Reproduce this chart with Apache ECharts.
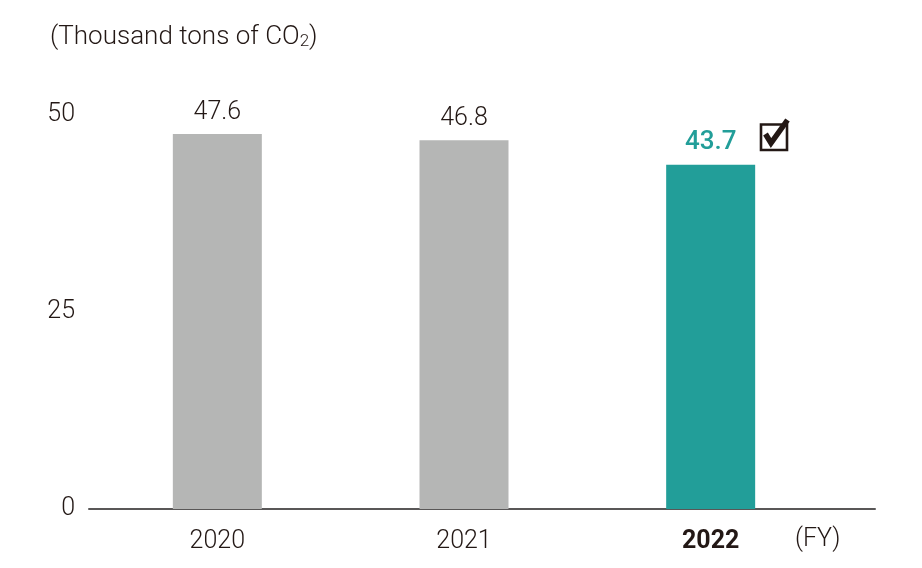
<!DOCTYPE html>
<html>
<head>
<meta charset="utf-8">
<script src="https://cdn.jsdelivr.net/npm/echarts@6/dist/echarts.min.js"></script>
<style>
  html, body { margin: 0; padding: 0; background: #fff; }
  #main { width: 922px; height: 568px; }
</style>
</head>
<body>
<div id="main"></div>
<script>
// 数据
const years = ['2020', '2021', '2022']
const emissions = [47.6, 46.8, 43.7]
const yTicks = [0, 25, 50]

const txt = '#231815'
const grey = '#b5b6b5'
const teal = '#229e99'
const font = 'Roboto, "Liberation Sans", sans-serif'
const fw = 300

let ele = echarts.init(document.getElementById('main'))

const option = {
    animation: false,
    textStyle: { fontFamily: font, fontWeight: fw },
    // 单位标题
    title: {
        text: '{a|(Thousand tons of CO}{s|2}{a|)}',
        left: 45,
        top: 19,
        textStyle: {
            rich: {
                a: { fontSize: 26, color: txt, fontFamily: font, fontWeight: fw },
                s: { fontSize: 17, color: txt, fontFamily: font, fontWeight: fw, verticalAlign: 'bottom', padding: [9, 0, 0, 0] }
            }
        }
    },
    grid: [
        { left: 94, right: 88, top: 115, bottom: 59 },
        // 底部轴线稍长
        { left: 89, right: 47, top: 115, bottom: 59 }
    ],
    xAxis: [
        {
            type: 'category',
            data: years,
            gridIndex: 0,
            axisLine: { show: false },
            axisTick: { show: false },
            axisLabel: {
                margin: 20,
                fontSize: 25,
                color: txt,
                fontFamily: font,
                fontWeight: fw,
                formatter: function (v, i) {
                    return i === years.length - 1 ? '{b|' + v + '}' : v
                },
                rich: {
                    b: { fontSize: 25, color: txt, fontFamily: font, fontWeight: 'bold' }
                }
            }
        },
        {
            type: 'value',
            gridIndex: 1,
            min: 0,
            max: 1,
            axisLine: { show: true, lineStyle: { color: '#595757', width: 2 } },
            axisTick: { show: false },
            axisLabel: { show: false },
            splitLine: { show: false }
        }
    ],
    yAxis: [
        {
            type: 'value',
            gridIndex: 0,
            min: 0,
            max: 50,
            interval: 25,
            axisLine: { show: false },
            axisTick: { show: false },
            splitLine: { show: false },
            axisLabel: {
                margin: 19,
                fontSize: 25,
                color: txt,
                fontFamily: font,
                fontWeight: fw,
                padding: [6, 0, 0, 0],
                formatter: function (v) { return yTicks.indexOf(v) >= 0 ? String(v) : '' }
            }
        },
        {
            type: 'value',
            gridIndex: 1,
            min: 0,
            max: 50,
            show: false
        }
    ],
    graphic: [
        // (FY) 单位
        {
            type: 'text',
            left: 795,
            top: 527,
            style: { text: '(FY)', fontSize: 25, fill: txt, fontFamily: font, fontWeight: fw }
        },
        // 勾选框
        {
            type: 'rect',
            shape: { x: 761, y: 124.5, width: 26, height: 25.5 },
            style: { fill: 'none', stroke: txt, lineWidth: 2.6 }
        },
        {
            type: 'polyline',
            shape: { points: [[765.5, 134], [771, 143], [787.5, 120]] },
            style: { fill: 'none', stroke: txt, lineWidth: 5.5, lineJoin: 'miter' }
        }
    ],
    series: [
        {
            type: 'bar',
            xAxisIndex: 0,
            yAxisIndex: 0,
            barWidth: 89,
            data: emissions.map(function (v, i) {
                let last = i === emissions.length - 1
                return {
                    value: v,
                    itemStyle: { color: last ? teal : grey },
                    label: last ? { color: teal, fontWeight: 500, fontSize: 26 } : {}
                }
            }),
            label: {
                show: true,
                position: 'top',
                distance: 9,
                fontSize: 25,
                color: txt,
                fontFamily: font,
                fontWeight: fw
            }
        },
        {
            type: 'line',
            xAxisIndex: 1,
            yAxisIndex: 1,
            data: [],
            silent: true
        }
    ]
}

ele.setOption(option)
</script>
</body>
</html>
